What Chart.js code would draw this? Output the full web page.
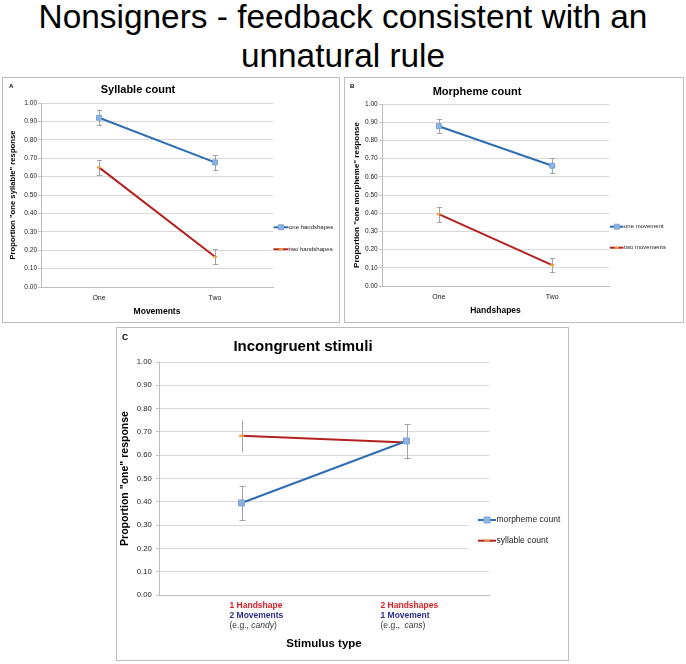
<!DOCTYPE html>
<html>
<head>
<meta charset="utf-8">
<script src="https://cdn.jsdelivr.net/npm/chart.js@4.4.1/dist/chart.umd.min.js"></script>
<style>
  body { margin: 0; background: #fff; width: 686px; height: 664px; position: relative; overflow: hidden; font-family: "Liberation Sans", Arial, sans-serif; }
  .main-title { position: absolute; left: 0; top: -3px; width: 686px; text-align: center; font-size: 33.4px; line-height: 39px; color: #000; }
  .panel { position: absolute; border: 1px solid #bdbdbd; background: #fff; }
  .panel canvas { position: absolute; left: 0; top: 0; }
  .letter { position: absolute; font-weight: bold; color: #000; }
</style>
</head>
<body>
<div class="main-title">Nonsigners - feedback consistent with an<br>unnatural rule</div>

<div class="panel" style="left:2px; top:77px; width:336px; height:244px;">
  <canvas id="chart_a" width="336" height="244"></canvas>
  <div class="letter" style="left:6px; top:5px; font-size:6px; line-height:6px;">A</div>
</div>
<div class="panel" style="left:344px; top:77px; width:338px; height:244px;">
  <canvas id="chart_b" width="338" height="244"></canvas>
  <div class="letter" style="left:5px; top:5px; font-size:6px; line-height:6px;">B</div>
</div>
<div class="panel" style="left:116px; top:327px; width:451px; height:332px;">
  <canvas id="chart_c" width="451" height="332"></canvas>
  <div class="letter" style="left:5px; top:5px; font-size:8.5px; line-height:8.5px;">C</div>
</div>

<script>
//panel A - syllable count
const movements = ['One', 'Two'];
const one_handshapes = [0.92, 0.677];
const one_handshapes_err = [0.042, 0.04];
const two_handshapes = [0.65, 0.164];
const two_handshapes_err = [0.04, 0.04];

//panel B - morpheme count
const handshapes = ['One', 'Two'];
const one_movement = [0.878, 0.661];
const one_movement_err = [0.04, 0.041];
const two_movements = [0.395, 0.115];
const two_movements_err = [0.041, 0.04];

//panel C - incongruent stimuli
const stimulus_handshapes = ['1 Handshape', '2 Handshapes'];
const stimulus_movements = ['2 Movements', '1 Movement'];
const stimulus_examples = ['candy', 'cans'];
const morpheme_count = [0.395, 0.661];
const morpheme_err = [0.071, 0.071];
const syllable_count = [0.683, 0.654];
const syllable_err = [0.07, 0.07];

const BLUE = '#2f6db3';
const RED = '#b3201f';
const MARKER_BLUE = '#8db4e2';
const DASH_ORANGE = '#f4a13c';
const GRID = '#d9d9d9';
const AXIS = '#bdbdbd';

Chart.defaults.font.family = '"Liberation Sans", Arial, sans-serif';
Chart.defaults.color = '#222';

//vertical error bars under the lines
const error_bars = {
	id: 'error_bars',
	beforeDatasetsDraw(chart) {
		const ctx = chart.ctx;
		const y_scale = chart.scales.y;
		chart.data.datasets.forEach((ds, i) => {
			if (!ds.errors) return;
			const meta = chart.getDatasetMeta(i);
			meta.data.forEach((pt, j) => {
				const x = Math.round(pt.x) + 0.5;
				const top = Math.round(y_scale.getPixelForValue(ds.data[j] + ds.errors[j])) + 0.5;
				const bottom = Math.round(y_scale.getPixelForValue(ds.data[j] - ds.errors[j])) + 0.5;
				ctx.save();
				ctx.strokeStyle = '#a3a3a3';
				ctx.lineWidth = 1;
				ctx.beginPath();
				ctx.moveTo(x, top);
				ctx.lineTo(x, bottom);
				if (ds.errorCap) {
					ctx.moveTo(x - ds.errorCap, top);
					ctx.lineTo(x + ds.errorCap, top);
					ctx.moveTo(x - ds.errorCap, bottom);
					ctx.lineTo(x + ds.errorCap, bottom);
				}
				ctx.stroke();
				ctx.restore();
			});
		});
	}
};

//excel style legend on the right side
const side_legend = {
	id: 'side_legend',
	afterDatasetsDraw(chart, args, opts) {
		const ctx = chart.ctx;
		ctx.save();
		if (opts.box) {
			ctx.fillStyle = '#fff';
			ctx.fillRect(opts.box[0], opts.box[1], opts.box[2], opts.box[3]);
		}
		chart.data.datasets.forEach((ds, i) => {
			const y = opts.y[i];
			ctx.strokeStyle = ds.borderColor;
			ctx.lineWidth = ds.borderWidth;
			ctx.beginPath();
			ctx.moveTo(opts.x, y);
			ctx.lineTo(opts.x + opts.len, y);
			ctx.stroke();
			ctx.fillStyle = ds.pointBackgroundColor;
			ctx.strokeStyle = ds.pointBorderColor;
			ctx.lineWidth = ds.pointBorderWidth;
			Chart.helpers.drawPoint(ctx, {
				pointStyle: ds.pointStyle,
				radius: ds.pointRadius,
				borderWidth: ds.pointBorderWidth,
				rotation: 0
			}, opts.x + opts.len / 2, y);
			ctx.fillStyle = '#222';
			ctx.font = opts.size + 'px "Liberation Sans", Arial, sans-serif';
			ctx.textBaseline = 'middle';
			ctx.textAlign = 'left';
			ctx.fillText(ds.label, opts.x + opts.len + 0.5, y);
		});
		ctx.restore();
	}
};

//coloured three line category labels for panel C
const stimulus_labels = {
	id: 'stimulus_labels',
	afterDraw(chart, args, opts) {
		if (!opts.show) return;
		const ctx = chart.ctx;
		const x_scale = chart.scales.x;
		const fam = '"Liberation Sans", Arial, sans-serif';
		ctx.save();
		ctx.textBaseline = 'middle';
		ctx.textAlign = 'left';
		stimulus_handshapes.forEach((txt, i) => {
			const left = x_scale.getPixelForValue(i) + opts.shift[i];
			const top = x_scale.top + opts.pad;
			ctx.font = 'bold ' + opts.size + 'px ' + fam;
			ctx.fillStyle = '#dc1f26';
			ctx.fillText(txt, left, top);
			ctx.fillStyle = '#2b2e8c';
			ctx.fillText(stimulus_movements[i], left, top + opts.lh);
			ctx.fillStyle = '#333';
			ctx.font = opts.size + 'px ' + fam;
			const pre = i == 0 ? '(e.g., ' : '(e.g.,  ';
			ctx.fillText(pre, left, top + 2 * opts.lh);
			let w = ctx.measureText(pre).width;
			ctx.font = 'italic ' + opts.size + 'px ' + fam;
			ctx.fillText(stimulus_examples[i], left + w, top + 2 * opts.lh);
			w += ctx.measureText(stimulus_examples[i]).width;
			ctx.font = opts.size + 'px ' + fam;
			ctx.fillText(')', left + w, top + 2 * opts.lh);
		});
		ctx.restore();
	}
};

function blueSet(label, data, errors, radius, cap) {
	return {
		label: label, data: data, errors: errors, errorCap: cap,
		borderColor: BLUE, borderWidth: 2,
		pointStyle: 'rect', pointRadius: radius,
		pointBackgroundColor: MARKER_BLUE, pointBorderColor: '#79a2d4', pointBorderWidth: 1,
		tension: 0
	};
}

function redSet(label, data, errors, radius, cap) {
	return {
		label: label, data: data, errors: errors, errorCap: cap,
		borderColor: RED, borderWidth: 2,
		pointStyle: 'line', pointRadius: radius,
		pointBackgroundColor: DASH_ORANGE, pointBorderColor: DASH_ORANGE, pointBorderWidth: 2,
		tension: 0
	};
}

function makeChart(id, cfg) {
	return new Chart(document.getElementById(id), {
		type: 'line',
		data: { labels: cfg.labels, datasets: cfg.datasets },
		plugins: [error_bars, side_legend, stimulus_labels],
		options: {
			responsive: false,
			animation: false,
			layout: { padding: { left: 0, top: 0, bottom: 0, right: cfg.right } },
			plugins: {
				legend: { display: false },
				tooltip: { enabled: false },
				title: {
					display: true, text: cfg.title, color: '#000',
					font: { size: cfg.titleSize, weight: 'bold', lineHeight: 1.2 },
					padding: cfg.titlePad
				},
				side_legend: cfg.legend,
				stimulus_labels: cfg.stim || { show: false }
			},
			scales: {
				x: {
					offset: true,
					grid: { display: false, drawTicks: false },
					border: { color: AXIS },
					ticks: {
						display: cfg.xTicks !== false,
						font: { size: cfg.xTickSize }, color: '#222', padding: cfg.xTickPad
					},
					title: {
						display: true, text: cfg.xTitle, color: '#000',
						font: { size: cfg.xTitleSize, weight: 'bold', lineHeight: 1.2 },
						padding: { top: 0, bottom: cfg.xTitlePad }
					},
					afterFit: s => { s.height = cfg.xHeight; }
				},
				y: {
					min: 0, max: 1,
					grid: { color: GRID, drawTicks: true, tickLength: 3, tickColor: '#c4c4c4' },
					border: { color: AXIS },
					ticks: {
						stepSize: 0.1, autoSkip: false,
						callback: v => v.toFixed(2),
						font: { size: cfg.yTickSize }, color: '#222', padding: cfg.yTickPad
					},
					title: {
						display: true, text: cfg.yTitle, color: '#000',
						font: { size: cfg.yTitleSize, weight: 'bold', lineHeight: 1.2 },
						padding: { top: cfg.yTitlePad, bottom: 0 }
					},
					afterFit: s => { s.width = cfg.yWidth; }
				}
			}
		}
	});
}

makeChart('chart_a', {
	labels: movements,
	datasets: [
		blueSet('one handshapes', one_handshapes, one_handshapes_err, 3.5, 2.5),
		redSet('two handshapes', two_handshapes, two_handshapes_err, 2, 2.5)
	],
	right: 66, title: 'Syllable count', titleSize: 11, titlePad: { top: 5.4, bottom: 6.4 },
	xTitle: 'Movements', xTitleSize: 8.5, xTitlePad: 4.9, xHeight: 35, xTickSize: 7, xTickPad: 7,
	yTitle: 'Proportion "one syllable" response', yTitleSize: 7.7, yTitlePad: 5.5, yWidth: 38,
	yTickSize: 6.5, yTickPad: 1,
	legend: { x: 270.5, len: 15, y: [149.3, 171.3], size: 6 }
});

makeChart('chart_b', {
	labels: handshapes,
	datasets: [
		blueSet('one movement', one_movement, one_movement_err, 3.5, 2.5),
		redSet('two movements', two_movements, two_movements_err, 2, 2.5)
	],
	right: 74, title: 'Morpheme count', titleSize: 11, titlePad: { top: 7.1, bottom: 5.7 },
	xTitle: 'Handshapes', xTitleSize: 8.5, xTitlePad: 5.9, xHeight: 36, xTickSize: 7, xTickPad: 6.5,
	yTitle: 'Proportion "one morpheme" response', yTitleSize: 8, yTitlePad: 7.3, yWidth: 37,
	yTickSize: 6.5, yTickPad: 1.3,
	legend: { x: 265, len: 13.5, y: [148.7, 169.7], size: 6 }
});

makeChart('chart_c', {
	labels: stimulus_handshapes,
	datasets: [
		blueSet('morpheme count', morpheme_count, morpheme_err, 4.2, 3),
		redSet('syllable count', syllable_count, syllable_err, 2.5, 0)
	],
	right: 79, title: 'Incongruent stimuli', titleSize: 15, titlePad: { top: 10.3, bottom: 5.7 },
	xTitle: 'Stimulus type', xTitleSize: 11.5, xTitlePad: 9.1, xHeight: 65, xTicks: false,
	xTickSize: 8.5, xTickPad: 5,
	yTitle: 'Proportion "one" response', yTitleSize: 10.5, yTitlePad: 1.7, yWidth: 42,
	yTickSize: 7.7, yTickPad: 4.3,
	legend: { x: 361, len: 18, y: [192, 212.7], size: 8.5, box: [352, 181, 99, 50] },
	stim: { show: true, shift: [-12, -26], pad: 10.3, lh: 10, size: 8.5 }
});
</script>
</body>
</html>
